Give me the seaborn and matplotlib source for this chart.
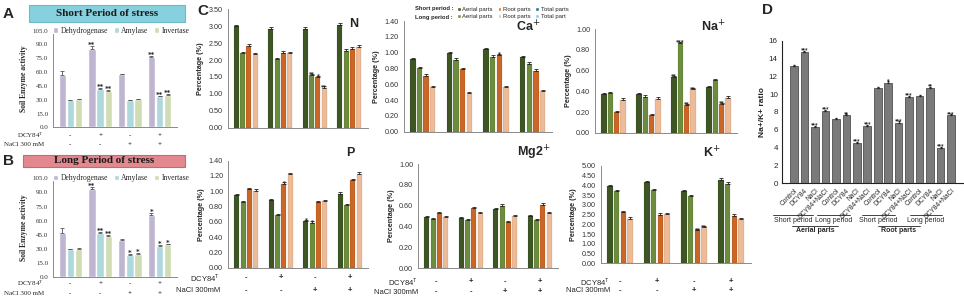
import matplotlib

matplotlib.use("Agg")
import matplotlib.pyplot as plt
import matplotlib.transforms as mtransforms
import pandas as pd
import seaborn as sns
from matplotlib.patches import Patch, Rectangle

W, H = 964, 300
SANS = "Liberation Sans"
SERIF = "Liberation Serif"

treatments = ["Control", "DCY84", "NaCl", "DCY84+NaCl"]
dcy_signs = ["-", "+", "-", "+"]
nacl_signs = ["-", "-", "+", "+"]

# ---- A / B : soil enzyme activity ----
enzymes = ["Dehydrogenase", "Amylase", "Invertase"]
ENZYME_COLORS = {"Dehydrogenase": "#bdb0d6", "Amylase": "#a7dde6", "Invertase": "#d3e4ad"}

short_dehydrogenase = [56.5, 85.0, 57.5, 76.0]
short_amylase = [29.5, 41.5, 29.5, 33.5]
short_invertase = [30.5, 40.0, 30.5, 35.5]
short_dehydrogenase_err = [4.5, 3.0, 0.5, 2.0]
short_amylase_err = [0.6, 1.0, 0.5, 0.8]
short_invertase_err = [0.6, 1.0, 0.6, 0.8]
short_stars = [["", "", ""], ["**", "**", "**"], ["", "", ""], ["**", "**", "**"]]

long_dehydrogenase = [47.5, 93.5, 40.0, 66.5]
long_amylase = [29.5, 47.5, 24.0, 33.5]
long_invertase = [30.0, 43.5, 25.0, 35.0]
long_dehydrogenase_err = [4.5, 2.5, 0.8, 2.0]
long_amylase_err = [0.6, 1.0, 0.6, 0.8]
long_invertase_err = [0.6, 1.0, 0.6, 0.8]
long_stars = [["", "", ""], ["**", "**", "**"], ["", "*", "*"], ["*", "*", "*"]]

# ---- C : nutrient percentages (per treatment: short aerial, long aerial, short root, long root) ----
parts = ["Short aerial", "Long aerial", "Short root", "Long root"]
PART_COLORS = {
    "Short aerial": "#3f5e1c",
    "Long aerial": "#6e9a30",
    "Short root": "#e5600b",
    "Long root": "#fbb98a",
}
n_percent = [[3.00, 2.20, 2.42, 2.17], [2.93, 2.03, 2.22, 2.20], [2.93, 1.55, 1.50, 1.18], [3.05, 2.28, 2.33, 2.40]]
ca_percent = [[0.92, 0.80, 0.71, 0.56], [0.99, 0.91, 0.79, 0.49], [1.04, 0.95, 0.97, 0.56], [0.94, 0.86, 0.77, 0.51]]
na_percent = [[0.37, 0.38, 0.20, 0.32], [0.37, 0.35, 0.17, 0.33], [0.54, 0.87, 0.27, 0.42], [0.44, 0.51, 0.28, 0.34]]
p_percent = [[0.95, 0.86, 1.03, 1.01], [0.88, 0.69, 1.10, 1.22], [0.61, 0.59, 0.86, 0.87], [0.97, 0.82, 1.15, 1.23]]
mg_percent = [[0.49, 0.47, 0.53, 0.49], [0.48, 0.46, 0.58, 0.53], [0.57, 0.60, 0.44, 0.50], [0.50, 0.46, 0.61, 0.53]]
k_percent = [[3.97, 3.73, 2.62, 2.30], [4.18, 3.77, 2.50, 2.52], [3.69, 3.45, 1.70, 1.86], [4.30, 4.10, 2.45, 2.28]]

no_stars = [["", "", "", ""]] * 4
n_stars = [["", "", "", ""], ["", "", "", ""], ["", "**", "*", "**"], ["", "", "", ""]]
ca_stars = [["", "", "", ""], ["", "", "", ""], ["", "", "*", ""], ["", "", "", ""]]
na_stars = [["", "", "", ""], ["", "", "", ""], ["**", "***", "**", "**"], ["", "", "**", ""]]
p_stars = [["", "", "", ""], ["", "", "*", ""], ["*", "*", "", ""], ["", "", "", ""]]
k_stars = [["", "", "", ""], ["", "", "", ""], ["", "", "**", "**"], ["", "", "", ""]]

# ---- D : Na+/K+ ratio ----
ratio_labels = treatments * 4
ratio_values = [13.1, 14.75, 6.3, 8.1, 7.2, 7.6, 4.5, 6.4, 10.7, 11.3, 6.8, 9.7, 9.8, 10.7, 3.9, 7.6]
ratio_stars = ["", "***", "***", "***", "", "**", "***", "***", "", "*", "***", "***", "", "**", "***", "***"]


def px_axes(fig, left, top, right, bottom):
    return fig.add_axes([left / W, 1 - bottom / H, (right - left) / W, (bottom - top) / H])


def style_axes(ax, family, size):
    sns.despine(ax=ax)
    for side in ["left", "bottom"]:
        ax.spines[side].set_color("#8a8a8a")
        ax.spines[side].set_linewidth(0.7)
    ax.tick_params(axis="y", length=2, width=0.5, pad=1.5, labelsize=size, colors="#333333")
    ax.tick_params(axis="x", length=0, labelbottom=False)
    for label in ax.get_yticklabels():
        label.set_family(family)
    ax.set_xlabel("")
    ax.grid(False)


def sign_rows(fig, ax, rows, label_right, family, size):
    trans = mtransforms.blended_transform_factory(ax.transData, fig.transFigure)
    for label, signs, y_px in rows:
        fig.text(label_right / W, 1 - y_px / H, label, ha="right", va="center", family=family, fontsize=size)
        for index, sign in enumerate(signs):
            ax.text(index, 1 - y_px / H, sign, transform=trans, ha="center", va="center",
                    family=family, fontsize=size, fontweight="bold", clip_on=False)


def add_errors_and_stars(ax, series, groups, values, errors, stars, color, star_size, star_pad):
    # seaborn 0.13 draws hue level by hue level, keeping the group order
    patches = [p for p in ax.patches if p.get_height() > 0]
    k = 0
    for s_index, _name in enumerate(series):
        for g_index, _group in enumerate(groups):
            patch = patches[k]
            k += 1
            x = patch.get_x() + patch.get_width() / 2
            top = values[g_index][s_index]
            err = errors[g_index][s_index]
            ax.errorbar(x, top, yerr=[[0], [err]], fmt="none", ecolor=color, elinewidth=0.6, capsize=1.2, capthick=0.6)
            star = stars[g_index][s_index]
            if star:
                ax.annotate(star, (x, top + err), xytext=(0, star_pad), textcoords="offset points",
                            ha="center", va="bottom", fontsize=star_size, fontweight="bold", family="DejaVu Sans")


def draw_enzyme_panel(fig, box, title, title_color, title_edge, letter, series_values, series_errors, stars, rows_y):
    left, top, right, bottom, box_top, box_bottom, box_left = box
    frame = pd.DataFrame(
        [
            {"group": treatments[g], "enzyme": enzymes[s], "value": series_values[s][g]}
            for s in range(len(enzymes))
            for g in range(len(treatments))
        ]
    )
    ax = px_axes(fig, left, top, right, bottom)
    sns.barplot(data=frame, x="group", y="value", hue="enzyme", order=treatments, hue_order=enzymes,
                palette=ENZYME_COLORS, width=0.82, gap=0.1, errorbar=None, ax=ax)
    values_by_group = [[series_values[s][g] for s in range(3)] for g in range(4)]
    errors_by_group = [[series_errors[s][g] for s in range(3)] for g in range(4)]
    add_errors_and_stars(ax, enzymes, treatments, values_by_group, errors_by_group, stars, "#555555", 5, -1.5)
    ax.set_ylim(0, 105)
    ax.set_yticks(range(0, 106, 15))
    ax.set_yticklabels([f"{v:.1f}" for v in range(0, 106, 15)])
    style_axes(ax, SERIF, 5)
    ax.set_ylabel("Soil Enzyme activity", family=SERIF, fontsize=5.5, fontweight="bold", labelpad=3)
    sns.move_legend(ax, "center", bbox_to_anchor=(0.55, 1.0), ncol=3, frameon=False, title=None,
                    fontsize=5.5, handlelength=0.7, handleheight=0.7, columnspacing=0.7, handletextpad=0.3,
                    prop={"family": SERIF, "size": 5.5})
    fig.add_artist(Rectangle((box_left / W, 1 - box_bottom / H), (185 - box_left) / W, (box_bottom - box_top) / H,
                             transform=fig.transFigure, facecolor=title_color, edgecolor=title_edge, linewidth=0.8))
    fig.text((box_left + 185) / 2 / W, 1 - (box_top + box_bottom) / 2 / H, title, ha="center", va="center",
             family=SERIF, fontsize=8, fontweight="bold", color="#1a1a1a")
    fig.text(3 / W, 1 - (box_top + box_bottom) / 2 / H, letter, ha="left", va="center",
             family=SANS, fontsize=11, fontweight="bold")
    sign_rows(fig, ax, [("DCY84$^\\mathregular{T}$", dcy_signs, rows_y[0]), ("NaCl 300 mM", nacl_signs, rows_y[1])],
              44, SERIF, 5)
    return ax


def draw_nutrient_panel(fig, rect, values, stars, ymax, step, title, title_xy, rows=None, label_right=None):
    left, top, right, bottom = rect
    frame = pd.DataFrame(
        [
            {"group": treatments[g], "part": parts[s], "value": values[g][s]}
            for s in range(len(parts))
            for g in range(len(treatments))
        ]
    )
    ax = px_axes(fig, left, top, right, bottom)
    sns.barplot(data=frame, x="group", y="value", hue="part", order=treatments, hue_order=parts,
                palette=PART_COLORS, width=0.72, gap=0.18, errorbar=None, legend=False, ax=ax,
                edgecolor="#00000033", linewidth=0.3)
    errors = [[ymax * 0.012] * 4 for _ in range(4)]
    add_errors_and_stars(ax, parts, treatments, values, errors, stars, "#222222", 4, -2)
    ax.set_ylim(0, ymax)
    ticks = [round(i * step, 2) for i in range(int(round(ymax / step)) + 1)]
    ax.set_yticks(ticks)
    ax.set_yticklabels([f"{t:.2f}" for t in ticks])
    style_axes(ax, SANS, 5.2)
    ax.set_ylabel("Percentage (%)", family=SANS, fontsize=5.2, fontweight="bold", labelpad=3)
    fig.text(title_xy[0] / W, 1 - title_xy[1] / H, title, ha="center", va="center",
             family=SANS, fontsize=9, fontweight="bold")
    if rows:
        sign_rows(fig, ax, rows, label_right, SANS, 5.5)
    return ax


def draw_ratio_panel(fig):
    ax = px_axes(fig, 782, 40.7, 963, 183)
    frame = pd.DataFrame({"position": list(range(len(ratio_values))), "ratio": ratio_values})
    sns.barplot(data=frame, x="position", y="ratio", color="#7a7a7a", width=0.72, errorbar=None,
                edgecolor="#3a3a3a", linewidth=0.5, ax=ax)
    for patch, value, star in zip(ax.patches, ratio_values, ratio_stars):
        x = patch.get_x() + patch.get_width() / 2
        ax.errorbar(x, value, yerr=[[0], [0.12]], fmt="none", ecolor="#222222", elinewidth=0.5, capsize=1.0)
        if star:
            ax.annotate(star, (x, value + 0.12), xytext=(0, -1), textcoords="offset points",
                        ha="center", va="bottom", fontsize=3.5, fontweight="bold")
    ax.set_ylim(0, 16)
    ax.set_yticks(range(0, 17, 2))
    sns.despine(ax=ax)
    for side in ["left", "bottom"]:
        ax.spines[side].set_color("#222222")
        ax.spines[side].set_linewidth(0.8)
    ax.tick_params(axis="y", length=2, width=0.6, pad=1, labelsize=5.8)
    ax.tick_params(axis="x", length=2, width=0.6, pad=1)
    ax.set_xticks(range(len(ratio_labels)))
    ax.set_xticklabels(ratio_labels, rotation=45, ha="right", rotation_mode="anchor", fontsize=4.8, family=SANS)
    for label in ax.get_yticklabels():
        label.set_family(SANS)
    ax.set_xlabel("")
    ax.set_ylabel("Na+/K+ ratio", family=SANS, fontsize=6, fontweight="bold", labelpad=2)
    fig.text(762 / W, 1 - 10 / H, "D", family=SANS, fontsize=11, fontweight="bold", va="center")

    groups = [
        ("Short period", 773, 813, 215, 220.5, "normal"),
        ("Long period", 817, 850, 215, 220.5, "normal"),
        ("Short period", 862, 895, 215, 220.5, "normal"),
        ("Long period", 910, 942, 215, 220.5, "normal"),
        ("Aerial parts", 792, 838, 225.5, 230.5, "bold"),
        ("Root parts", 878, 920, 225.5, 230.5, "bold"),
    ]
    for text, x0, x1, line_y, text_y, weight in groups:
        fig.add_artist(plt.Line2D([x0 / W, x1 / W], [1 - line_y / H, 1 - line_y / H],
                                  transform=fig.transFigure, color="#222222", linewidth=0.6))
        fig.text((x0 + x1) / 2 / W, 1 - text_y / H, text, ha="center", va="center",
                 family=SANS, fontsize=5, fontweight=weight)


def draw_part_legend(fig):
    handles = [
        Patch(facecolor=PART_COLORS["Short aerial"]),
        Patch(facecolor=PART_COLORS["Long aerial"]),
        Patch(facecolor=PART_COLORS["Short root"]),
        Patch(facecolor=PART_COLORS["Long root"]),
        Patch(facecolor="#1f7a8c"),
        Patch(facecolor="#8fd0ea"),
    ]
    labels = ["Aerial parts", "Aerial parts", "Root parts", "Root parts", "Total parts", "Total part"]
    fig.legend(handles, labels, ncol=3, loc="center left", bbox_to_anchor=(454 / W, 1 - 13 / H), frameon=False,
               prop={"family": SANS, "size": 4.3}, handlelength=0.6, handleheight=0.7,
               columnspacing=0.8, handletextpad=0.3, labelspacing=0.35, borderpad=0)
    fig.text(415 / W, 1 - 8.3 / H, "Short period :", family=SANS, fontsize=4.2, fontweight="bold", va="center")
    fig.text(415 / W, 1 - 17.7 / H, "Long period :", family=SANS, fontsize=4.2, fontweight="bold", va="center")


def main():
    sns.set_theme(style="white")
    fig = plt.figure(figsize=(W / 100, H / 100), dpi=100)
    fig.patch.set_facecolor("white")

    draw_enzyme_panel(
        fig, (53, 30.7, 177, 127.3, 5, 22, 29), "Short Period of stress", "#86d1dd", "#6bbccb", "A",
        [short_dehydrogenase, short_amylase, short_invertase],
        [short_dehydrogenase_err, short_amylase_err, short_invertase_err],
        short_stars, (135.5, 144.5),
    )
    draw_enzyme_panel(
        fig, (53, 178.3, 177, 277.3, 154.5, 166.7, 23), "Long Period of stress", "#e2888e", "#c8686f", "B",
        [long_dehydrogenase, long_amylase, long_invertase],
        [long_dehydrogenase_err, long_amylase_err, long_invertase_err],
        long_stars, (283.5, 293.5),
    )

    fig.text(197 / W, 1 - 11 / H, "C", family=SANS, fontsize=11, fontweight="bold", va="center")
    draw_nutrient_panel(fig, (227.5, 9.3, 367.5, 127.7), n_percent, n_stars, 3.5, 0.5, "N", (354, 24))
    draw_nutrient_panel(fig, (403.5, 21, 552, 131.7), ca_percent, ca_stars, 1.4, 0.2, "Ca$^{+}$", (528, 27))
    draw_nutrient_panel(fig, (595, 29.3, 737, 132.7), na_percent, na_stars, 1.0, 0.2, "Na$^{+}$", (713, 27))

    dcy_label = "DCY84$^\\mathregular{T}$"
    draw_nutrient_panel(fig, (228, 160.7, 368, 267.7), p_percent, p_stars, 1.4, 0.2, "P", (350, 153),
                        rows=[(dcy_label, dcy_signs, 278), ("NaCl 300mM", nacl_signs, 290.7)], label_right=220)
    draw_nutrient_panel(fig, (418, 164, 558, 268.3), mg_percent, no_stars, 1.0, 0.2, "Mg2$^{+}$", (534, 153),
                        rows=[(dcy_label, dcy_signs, 281.7), ("NaCl 300mM", nacl_signs, 292)], label_right=418)
    draw_nutrient_panel(fig, (600.5, 166, 750.5, 263.3), k_percent, k_stars, 5.0, 0.5, "K$^{+}$", (712, 153),
                        rows=[(dcy_label, dcy_signs, 281.7), ("NaCl 300mM", nacl_signs, 290.7)], label_right=610)
    draw_part_legend(fig)

    draw_ratio_panel(fig)

    fig.savefig("out.png", dpi=100, facecolor="white")


if __name__ == "__main__":
    main()
